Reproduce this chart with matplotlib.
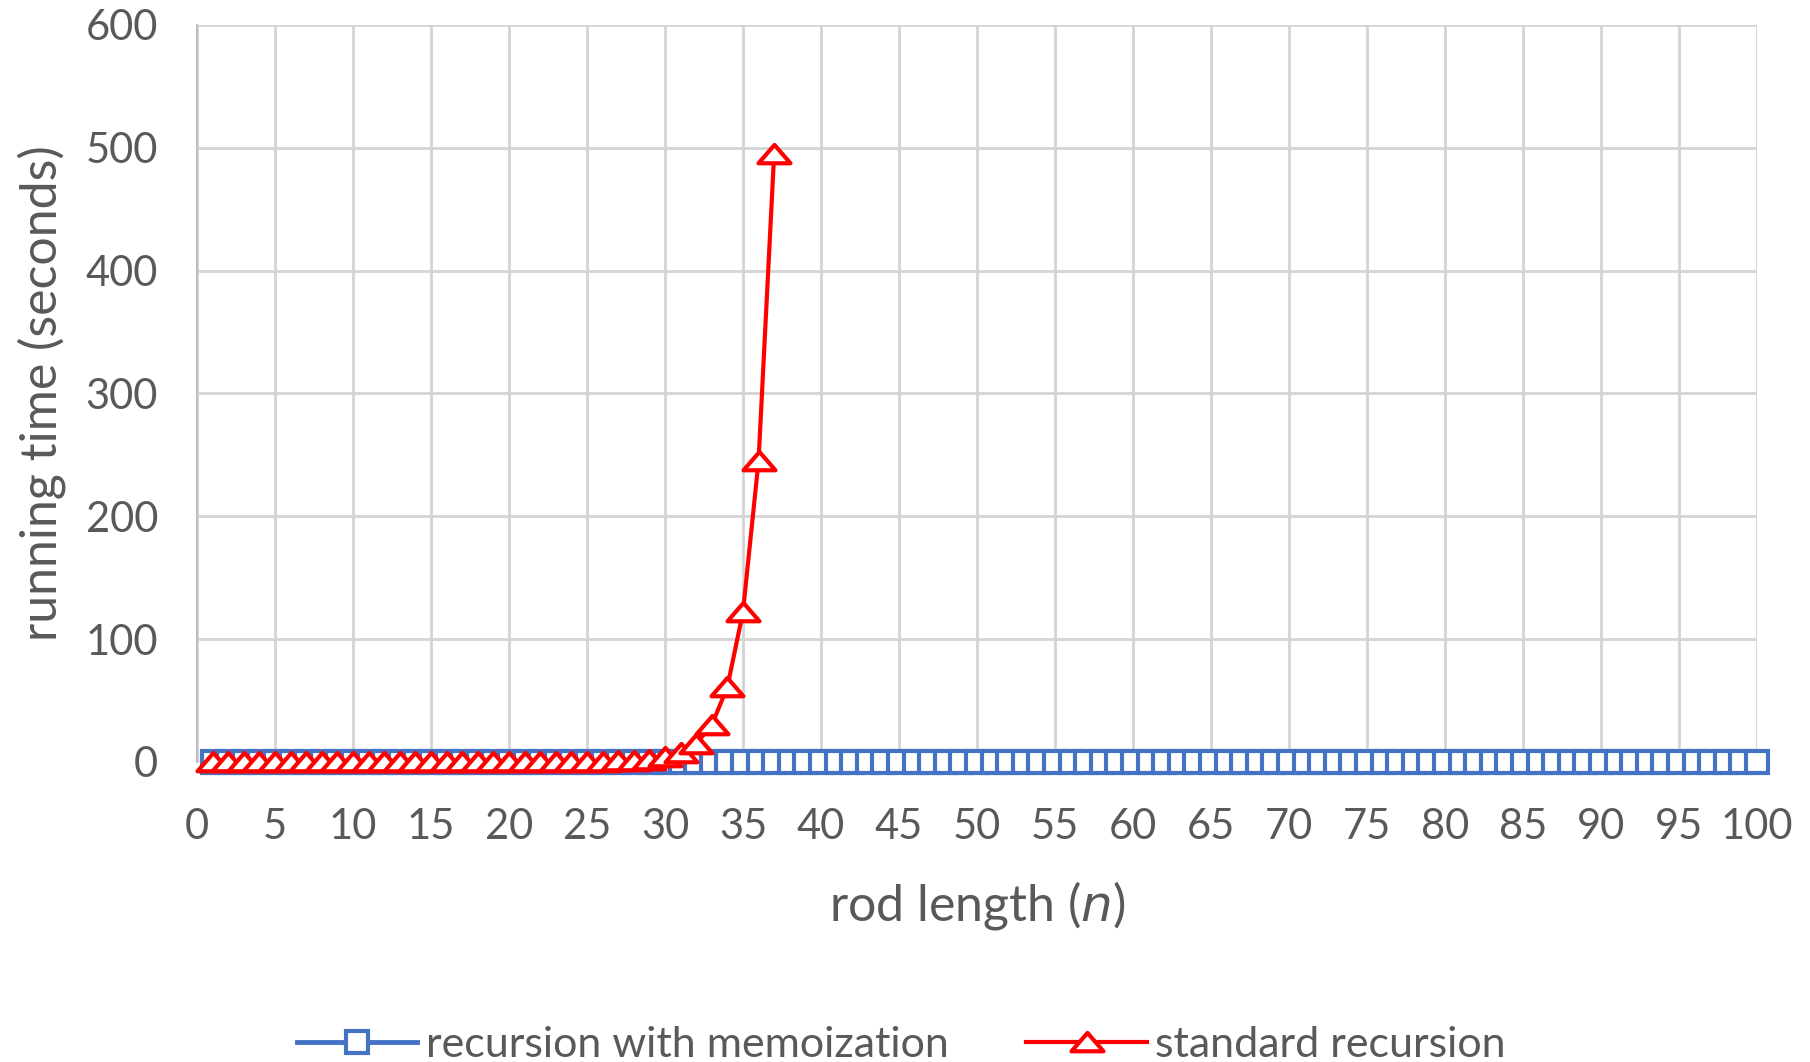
import numpy as np
import matplotlib.pyplot as plt
from matplotlib.path import Path

# rod lengths
n_memo = list(range(1, 101))
t_memo = [0.0] * 100  # memoized version, effectively zero at this scale

n_std = list(range(1, 38))
t_std = [0.0, 0.0, 0.0, 0.0, 0.0, 0.0, 0.0, 0.0, 0.0, 0.0,
         0.0, 0.0, 0.0, 0.0, 0.0, 0.0, 0.0, 0.0, 0.0, 0.0,
         0.0, 0.05, 0.1, 0.1, 0.2, 0.3, 0.5, 0.9, 1.8, 3.7,
         7.4, 15, 30, 61, 122, 245, 495]

plt.rcParams['font.family'] = ['Lato', 'DejaVu Sans']

fig = plt.figure(figsize=(18.10, 10.62), dpi=100)
ax = fig.add_axes([0.1088, 0.2825, 0.8619, 0.694])

# Excel-like flat triangle
tri = Path([(-1, -0.55), (1, -0.55), (0, 0.6), (-1, -0.55)],
           [Path.MOVETO, Path.LINETO, Path.LINETO, Path.CLOSEPOLY])

blue = '#4472C4'
red = '#FF0000'

ax.plot(n_memo, t_memo, color=blue, lw=3.5, marker='s', markersize=16,
        markerfacecolor='white', markeredgecolor=blue, markeredgewidth=3,
        label='recursion with memoization', zorder=3, clip_on=False)
ax.plot(n_std, t_std, color=red, lw=3, marker=tri, markersize=23,
        markerfacecolor='white', markeredgecolor=red, markeredgewidth=3,
        label='standard recursion', zorder=4, clip_on=False)

ax.set_xlim(0, 100)
ax.set_ylim(0, 600)
ax.set_xticks(np.arange(0, 101, 5))
ax.set_yticks(np.arange(0, 601, 100))
ax.grid(True, color='#d4d4d4', lw=2)
ax.set_axisbelow(True)
for s in ['top', 'right', 'bottom']:
    ax.spines[s].set_visible(False)
ax.spines['left'].set_color('#bfbfbf')
ax.spines['left'].set_linewidth(1.5)
ax.tick_params(length=0, labelsize=30, labelcolor='#595959')
ax.tick_params(axis='x', pad=33)
ax.tick_params(axis='y', pad=28)

ax.set_xlabel('rod length ($\\it{n}$)', fontsize=36, color='#595959', labelpad=24)
ax.set_ylabel('running time (seconds)', fontsize=36, color='#595959', labelpad=14)

fig.legend(loc='center', bbox_to_anchor=(0.498, 0.016), ncol=2, frameon=False,
           fontsize=31, labelcolor='#595959', handlelength=2.8,
           columnspacing=1.8, handletextpad=0.2)

fig.savefig('out.png', dpi=100)
